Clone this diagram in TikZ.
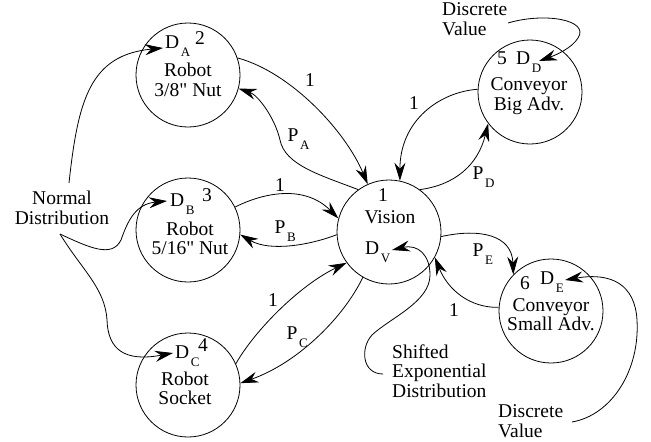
\documentclass[tikz,border=0pt]{standalone}
\usepackage{fontspec}
\setmainfont{Liberation Serif}[Ligatures=TeXOff]
\usetikzlibrary{arrows.meta}
% lowered, smaller subscript letter in text
\newcommand{\subl}[1]{\kern1.5pt\raisebox{-8pt}{\fontsize{13}{13}\selectfont #1}}

\begin{document}
\begin{tikzpicture}[x=1pt,y=-1pt,
  state/.style={circle,draw,line width=0.8pt,minimum size=104pt,inner sep=0pt},
  txt/.style={font=\fontsize{19.5}{19.5}\selectfont,inner sep=0pt,align=center},
  lbl/.style={txt,align=left},
  arc/.style={line width=0.8pt,-{Stealth[length=18pt,width=11pt,inset=6pt]}}]

\fill[white] (0,0) rectangle (651,442);
\useasboundingbox (0,0) rectangle (651,442);

% states
\node[state] (A) at (188,75) {};
\node[state] (B) at (188,230) {};
\node[state] (C) at (188,385) {};
\node[state] (V) at (389,232) {};
\node[state] (D) at (530,92) {};
\node[state] (E) at (551,311) {};

% state contents
\node[txt,anchor=base west] (dA) at (165,48.5) {D\subl{A}};
\node[txt] (nA) at (200,38) {2};
\node[txt] (tA) at (188,80) {Robot\\3/8" Nut};

\node[txt,anchor=base west] (dB) at (170,206.5) {D\subl{B}};
\node[txt] (nB) at (207,195) {3};
\node[txt] (tB) at (190,238.5) {Robot\\5/16" Nut};

\node[txt,anchor=base west] (dC) at (175,358.5) {D\subl{C}};
\node[txt] (nC) at (203,345) {4};
\node[txt] (tC) at (185,388.5) {Robot\\Socket};

\node[txt] (nV) at (383,195) {1};
\node[txt] (tV) at (390,217) {Vision};
\node[txt,anchor=base west] (dV) at (365,254.5) {D\subl{V}};

\node[txt] (nD) at (502,58) {5};
\node[txt,anchor=base west] (dD) at (516,64) {D\subl{D}};
\node[txt] (tD) at (529,96) {Conveyor\\Big Adv.};

\node[txt] (nE) at (525,283) {6};
\node[txt,anchor=base west] (dE) at (540,284.5) {D\subl{E}};
\node[txt] (tE) at (551,314.5) {Conveyor\\Small Adv.};

% free labels
\node[txt] (norm) at (62,208) {Normal\\Distribution};
\node[lbl,anchor=west] (dvtop) at (442,19) {Discrete\\Value};
\node[lbl,anchor=west] (sed) at (392,371) {Shifted\\Exponential\\Distribution};
\node[lbl,anchor=west] (dvbot) at (498,421) {Discrete\\Value};

% transition labels
\node[txt] (l1) at (310,80) {1};
\node[txt,anchor=base west] (pA) at (287.5,141.5) {P\subl{A}};
\node[txt] (l2) at (280,185) {1};
\node[txt,anchor=base west] (pB) at (274.5,233.5) {P\subl{B}};
\node[txt] (l3) at (273,300) {1};
\node[txt,anchor=base west] (pC) at (286.5,339.5) {P\subl{C}};
\node[txt] (l4) at (414,103) {1};
\node[txt,anchor=base west] (pD) at (472.5,179.5) {P\subl{D}};
\node[txt,anchor=base west] (pE) at (472.5,256.5) {P\subl{E}};
\node[txt] (l5) at (454,310) {1};

% connector ends at labels and distribution markers
\coordinate (nA0) at (69,183);
\coordinate (nB0) at (60,234);
\coordinate (aA) at (163,48);
\coordinate (aB) at (167,201);
\coordinate (aC) at (173,353);
\coordinate (sD) at (508,23);
\coordinate (aD) at (539,61);
\coordinate (sE) at (572,422);
\coordinate (aE) at (565,280);
\coordinate (sV) at (383,374);
\coordinate (aV) at (392,250);

% transitions between states
\draw[arc] (A.19) .. controls (290,72) and (345,130) .. (V.114);
\draw[arc] (V.126) .. controls (320,175) and (285,165) .. (280,140) .. controls (275,118) and (258,95) .. (A.-15);
\draw[arc] (B.26) .. controls (265,192) and (305,185) .. (V.165);
\draw[arc] (V.183) .. controls (310,245) and (270,252) .. (B.-5);
\draw[arc] (C.24) .. controls (255,330) and (300,285) .. (V.216);
\draw[arc] (V.-120) .. controls (345,315) and (300,362) .. (C.2);
\draw[arc] (D.177) .. controls (440,92) and (400,120) .. (V.78);
\draw[arc] (V.54) .. controls (455,185) and (478,165) .. (D.-143);
\draw[arc] (V.-5) .. controls (480,228) and (512,235) .. (E.136);
\draw[arc] (E.176) .. controls (470,308) and (448,290) .. (V.-29);

% distributions
\draw[arc] (nA0) .. controls (78,100) and (90,55) .. (aA);
\draw[arc] (nB0) .. controls (90,248) and (112,258) .. (121,240) .. controls (128,220) and (136,204) .. (aB);
\draw[arc] (nB0) .. controls (82,270) and (105,288) .. (107,320) .. controls (108,350) and (125,362) .. (aC);
\draw[arc] (sD) .. controls (545,12) and (590,20) .. (578,38) .. controls (572,48) and (556,55) .. (aD);
\draw[arc] (sE) .. controls (612,415) and (640,370) .. (637,320) .. controls (635,285) and (612,272) .. (aE);
\draw[arc] (sV) .. controls (362,374) and (360,348) .. (372,335) .. controls (390,318) and (430,302) .. (430,275) .. controls (430,255) and (418,244) .. (aV);
\end{tikzpicture}
\end{document}
